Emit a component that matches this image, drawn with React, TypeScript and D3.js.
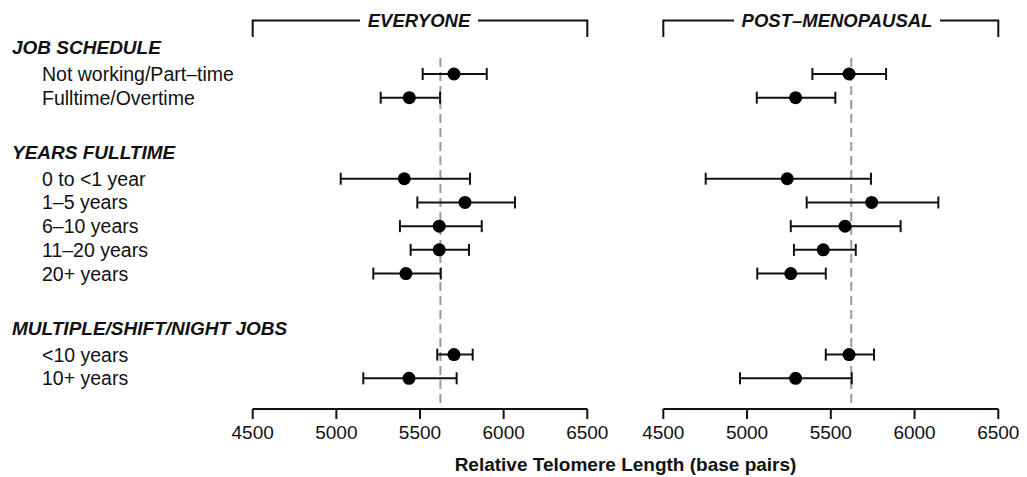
import React from 'react';
import * as d3 from 'd3';

// groups and their rows
const groups = ['JOB SCHEDULE', 'YEARS FULLTIME', 'MULTIPLE/SHIFT/NIGHT JOBS'];
const rowLabels = [
  'Not working/Part\u2013time', 'Fulltime/Overtime',
  '0 to <1 year', '1\u20135 years', '6\u201310 years', '11\u201320 years', '20+ years',
  '<10 years', '10+ years',
];
const rowGroup = [0, 0, 1, 1, 1, 1, 1, 2, 2];

// EVERYONE panel: estimate, lower, upper
const allMean = [5703, 5436, 5406, 5769, 5615, 5615, 5416, 5703, 5434];
const allLow = [5516, 5265, 5026, 5484, 5380, 5444, 5221, 5603, 5161];
const allHigh = [5899, 5620, 5799, 6068, 5869, 5793, 5624, 5815, 5719];

// POST-MENOPAUSAL panel
const postMean = [5609, 5290, 5240, 5744, 5585, 5455, 5261, 5609, 5290];
const postLow = [5390, 5058, 4753, 5356, 5261, 5280, 5061, 5470, 4958];
const postHigh = [5830, 5527, 5740, 6142, 5917, 5649, 5470, 5758, 5625];

const refValue = 5622;
const ticks = [4500, 5000, 5500, 6000, 6500];
const panelTitles = ['EVERYONE', 'POST\u2013MENOPAUSAL'];

const FONT = '"Liberation Sans", Arial, Helvetica, sans-serif';
const INK = '#111';

export default function App() {
  const W = 1027, H = 477;
  const axisY = 409;

  // vertical slot scale: each group adds a gap
  const gapSlots = 2.42;
  const slotOf = (i: number) => i + rowGroup[i] * gapSlots;
  const yScale = d3.scaleLinear().domain([0, 1]).range([74, 97.7]);
  const firstRow = groups.map((_, g) => rowGroup.indexOf(g));

  const panels = [
    { x: d3.scaleLinear().domain([4500, 6500]).range([252.7, 587.3]), mean: allMean, low: allLow, high: allHigh },
    { x: d3.scaleLinear().domain([4500, 6500]).range([663.3, 998.3]), mean: postMean, low: postLow, high: postHigh },
  ];
  const titleGap = [[360, 478], [734, 940]];

  return (
    <svg width={W} height={H} style={{ position: 'absolute', left: 0, top: 0, background: '#fff' }}
      fontFamily={FONT}>
      {groups.map((g, gi) => (
        <text key={g} x={12} y={yScale(slotOf(firstRow[gi]) - 1.14) + 7} fontSize={19}
          fontWeight="bold" fontStyle="italic" fill={INK}>{g}</text>
      ))}
      {rowLabels.map((l, i) => (
        <text key={l} x={42} y={yScale(slotOf(i)) + 7} fontSize={19.5} fill={INK}>{l}</text>
      ))}

      {panels.map((p, pi) => {
        const [x0, x1] = p.x.range();
        const [g0, g1] = titleGap[pi];
        const xr = p.x(refValue);
        return (
          <g key={pi}>
            {/* top bracket */}
            <path d={`M${x0},37V20.5H${g0}M${g1},20.5H${x1}V37`} fill="none" stroke={INK} strokeWidth={2} />
            <text x={(g0 + g1) / 2} y={27} textAnchor="middle" fontSize={18.5} fontWeight="bold"
              fontStyle="italic" fill={INK}>{panelTitles[pi]}</text>

            {/* reference line */}
            <line x1={xr} x2={xr} y1={58} y2={axisY} stroke="#9a9a9a" strokeWidth={2}
              strokeDasharray="9,5" />

            {/* axis */}
            <path d={`M${x0},${axisY}H${x1}`} stroke={INK} strokeWidth={2} />
            {ticks.map(t => (
              <g key={t}>
                <line x1={p.x(t)} x2={p.x(t)} y1={axisY} y2={axisY + 10} stroke={INK} strokeWidth={2} />
                <text x={p.x(t)} y={axisY + 30} textAnchor="middle" fontSize={19} fill={INK}>{t}</text>
              </g>
            ))}

            {/* intervals */}
            {p.mean.map((m, i) => {
              const y = yScale(slotOf(i));
              const lo = p.x(p.low[i]), hi = p.x(p.high[i]);
              return (
                <g key={i}>
                  <line x1={lo} x2={hi} y1={y} y2={y} stroke={INK} strokeWidth={2} />
                  <line x1={lo} x2={lo} y1={y - 6} y2={y + 6} stroke={INK} strokeWidth={2} />
                  <line x1={hi} x2={hi} y1={y - 6} y2={y + 6} stroke={INK} strokeWidth={2} />
                  <circle cx={p.x(m)} cy={y} r={6.5} fill="#000" />
                </g>
              );
            })}
          </g>
        );
      })}

      <text x={(252.7 + 998.3) / 2} y={471} textAnchor="middle" fontSize={19} fontWeight="bold"
        fill={INK}>Relative Telomere Length (base pairs)</text>
    </svg>
  );
}
